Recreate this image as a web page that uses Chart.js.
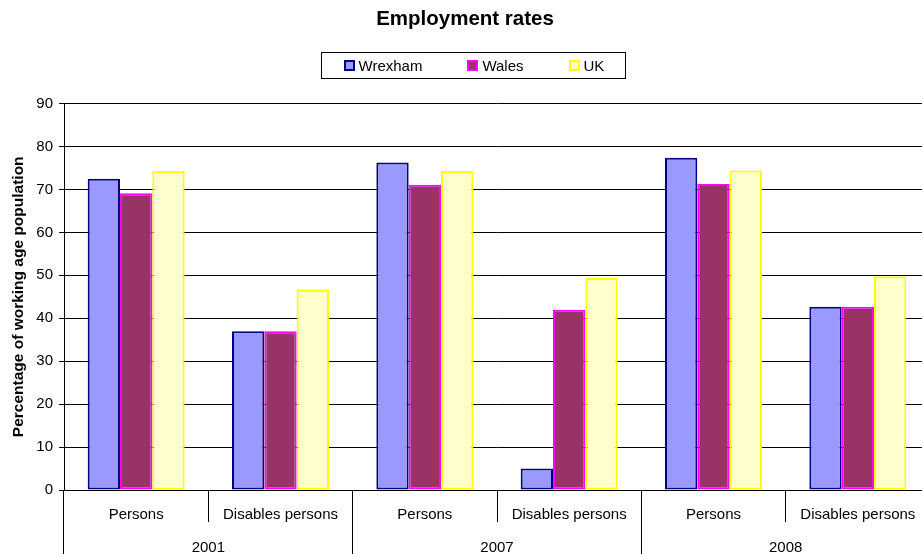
<!DOCTYPE html>
<html>
<head>
<meta charset="utf-8">
<title>Employment rates</title>
<script src="https://cdn.jsdelivr.net/npm/chart.js@4/dist/chart.umd.min.js"></script>
<style>
  html, body { margin: 0; padding: 0; background: #fff; overflow: hidden; }
  #wrap { width: 922px; height: 554px; overflow: hidden; }
</style>
</head>
<body>
<div id="wrap"><canvas id="empChart" width="930" height="554"></canvas></div>
<script>
// categories (two level axis)
const groups = ['Persons', 'Disables persons', 'Persons', 'Disables persons', 'Persons', 'Disables persons'];
const years = ['2001', '2007', '2008'];

// series values, % of working age population
const wrexham = [72.5, 37.0, 76.3, 5.0, 77.4, 42.7];
const wales = [69.1, 37.0, 71.1, 42.0, 71.3, 42.7];
const uk = [74.3, 46.7, 74.3, 49.4, 74.4, 49.8];

const FONT = "'Liberation Sans', Arial, sans-serif";

// boxed legend like the excel one
const boxLegend = {
  id: 'boxLegend',
  afterDraw(chart) {
    const ctx = chart.ctx;
    const sets = chart.data.datasets;
    ctx.save();
    ctx.font = '15px ' + FONT;
    const mark = 11, gapTxt = 4, gapItem = 45, padL = 22, padR = 21;
    let widths = sets.map(d => mark + gapTxt + ctx.measureText(d.label).width);
    let boxW = padL + widths.reduce((a, b) => a + b, 0) + gapItem * (sets.length - 1) + padR;
    let left = Math.round(473 - boxW / 2) + 0.5;
    let top = 52.5, h = 26;
    ctx.strokeStyle = '#000';
    ctx.lineWidth = 1;
    ctx.strokeRect(left, top, Math.round(boxW), h);
    let x = left + padL;
    let cy = top + h / 2;
    sets.forEach((d, i) => {
      ctx.fillStyle = d.borderColor;
      ctx.fillRect(Math.round(x), Math.round(cy - 5.5), mark, mark);
      ctx.fillStyle = d.backgroundColor;
      ctx.fillRect(Math.round(x) + 2, Math.round(cy - 5.5) + 2, mark - 4, mark - 4);
      ctx.fillStyle = '#000';
      ctx.textBaseline = 'middle';
      ctx.fillText(d.label, x + mark + gapTxt, cy + 1);
      x += widths[i] + gapItem;
    });
    ctx.restore();
  }
};

let config = {
  type: 'bar',
  data: {
    labels: groups,
    datasets: [
      { label: 'Wrexham', data: wrexham, backgroundColor: '#9999FF', borderColor: '#000080' },
      { label: 'Wales', data: wales, backgroundColor: '#993366', borderColor: '#FF00FF' },
      { label: 'UK', data: uk, backgroundColor: '#FFFFCC', borderColor: '#FFFF00' }
    ]
  },
  options: {
    responsive: false,
    animation: false,
    layout: { padding: 0 },
    datasets: {
      bar: {
        borderWidth: 2,
        borderSkipped: false,
        categoryPercentage: 0.672,
        barPercentage: 1
      }
    },
    plugins: {
      legend: { display: false },
      tooltip: { enabled: false },
      title: {
        display: true,
        text: 'Employment rates',
        color: '#000',
        font: { family: FONT, size: 20.5, weight: 'bold' },
        padding: { top: 7, bottom: 72 }
      }
    },
    scales: {
      x: {
        type: 'category',
        offset: true,
        grid: { offset: true, drawOnChartArea: false, drawTicks: true, tickLength: 32, color: '#000', lineWidth: 1 },
        border: { display: true, color: '#000', width: 1 },
        ticks: { color: '#000', font: { family: FONT, size: 15 }, padding: -16, autoSkip: false, maxRotation: 0 },
        afterFit(scale) { scale.height = 32; }
      },
      x2: {
        type: 'category',
        position: 'bottom',
        labels: years,
        offset: true,
        weight: 1,
        grid: { offset: true, drawOnChartArea: false, drawTicks: true, tickLength: 34, color: '#000', lineWidth: 1 },
        border: { display: false },
        ticks: { color: '#000', font: { family: FONT, size: 15 }, padding: -17, autoSkip: false, maxRotation: 0 },
        afterFit(scale) { scale.height = 32; }
      },
      y: {
        min: 0,
        max: 90,
        ticks: { stepSize: 10, color: '#000', font: { family: FONT, size: 15 }, padding: 6 },
        grid: { color: '#000', lineWidth: 1, tickLength: 5 },
        border: { display: true, color: '#000', width: 1 },
        title: {
          display: true,
          text: 'Percentage of working age population',
          color: '#000',
          font: { family: FONT, size: 15.5, weight: 'bold' },
          padding: { top: 9, bottom: 0 }
        },
        afterFit(scale) { scale.width = 64; }
      }
    }
  },
  plugins: [boxLegend]
};

let ctxBar = document.getElementById('empChart').getContext('2d');
window.empChart = new Chart(ctxBar, config);
</script>
</body>
</html>
